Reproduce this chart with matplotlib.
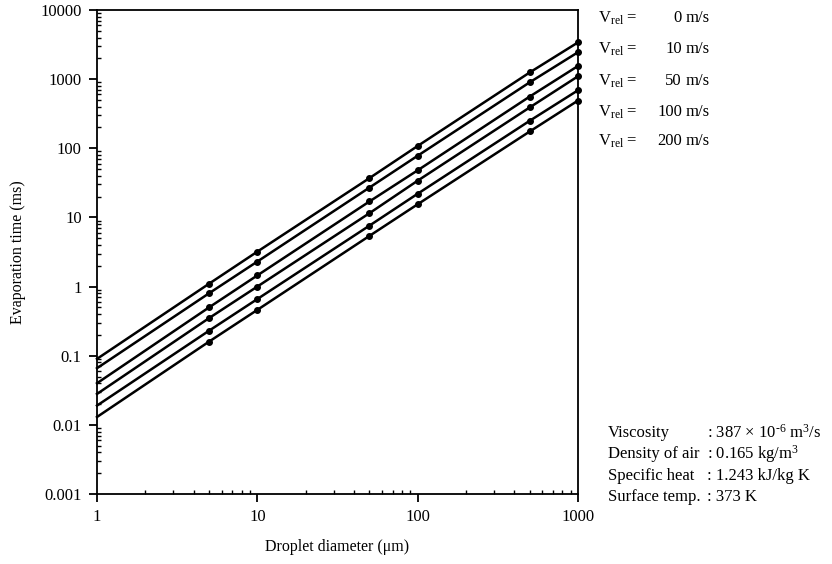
import matplotlib
matplotlib.use("Agg")
import matplotlib.pyplot as plt
from matplotlib.ticker import LogLocator, NullFormatter, FixedLocator, FixedFormatter

plt.rcParams['font.family'] = ['Liberation Serif', 'DejaVu Serif']
plt.rcParams['mathtext.fontset'] = 'custom'
plt.rcParams['mathtext.rm'] = 'Liberation Serif'
plt.rcParams['mathtext.it'] = 'Liberation Serif:italic'

# Data
diameters = [1, 5, 10, 50, 100, 500, 1000]
line1 = [0.090, 1.10, 3.2, 37.0, 108.0, 1250.0, 3400.0]
line2 = [0.066, 0.80, 2.3, 27.0, 78.0, 900.0, 2450.0]
line3 = [0.040, 0.50, 1.45, 17.0, 48.0, 560.0, 1550.0]
line4 = [0.028, 0.35, 1.0, 11.5, 34.0, 390.0, 1100.0]
line5 = [0.019, 0.23, 0.66, 7.6, 22.0, 250.0, 690.0]
line6 = [0.013, 0.16, 0.46, 5.4, 15.5, 175.0, 490.0]
series = [line1, line2, line3, line4, line5, line6]

legend_speeds = ['0', '10', '50', '100', '200']
param_names = ['Viscosity', 'Density of air', 'Specific heat', 'Surface temp.']
param_values = [r': 387 $\times$ 10$^{\text{-}6}$ m$^{3}$/s', r': 0.165 kg/m$^{3}$',
                ': 1.243 kJ/kg K', ': 373 K']
x_ticks = [1, 10, 100, 1000]
x_ticklabels = ['1', '10', '100', '1000']
y_ticks = [0.001, 0.01, 0.1, 1, 10, 100, 1000, 10000]
y_ticklabels = ['0.001', '0.01', '0.1', '1', '10', '100', '1000', '10000']

W, H = 832, 564
fig = plt.figure(figsize=(W / 100, H / 100), dpi=100)
ax = fig.add_axes([97 / W, 1 - 494 / H, (578 - 97) / W, (494 - 10) / H])

for s in series:
    ax.plot(diameters, s, color='black', lw=1.8, clip_on=False)
    ax.plot(diameters[1:], s[1:], 'o', color='black', ms=4, clip_on=False)

ax.set_xscale('log')
ax.set_yscale('log')
ax.set_xlim(1, 1000)
ax.set_ylim(0.001, 10000)

ax.xaxis.set_major_locator(FixedLocator(x_ticks))
ax.xaxis.set_major_formatter(FixedFormatter(x_ticklabels))
ax.yaxis.set_major_locator(FixedLocator(y_ticks))
ax.yaxis.set_major_formatter(FixedFormatter(y_ticklabels))
ax.xaxis.set_minor_locator(LogLocator(base=10, subs=range(2, 10), numticks=20))
ax.yaxis.set_minor_locator(LogLocator(base=10, subs=range(2, 10), numticks=20))
ax.xaxis.set_minor_formatter(NullFormatter())
ax.yaxis.set_minor_formatter(NullFormatter())

ax.tick_params(which='major', direction='out', length=6, width=1.3, labelsize=12,
               colors='black', pad=5)
ax.tick_params(which='minor', direction='in', length=3, width=1.0)
for sp in ax.spines.values():
    sp.set_linewidth(1.3)

ax.set_xlabel('Droplet diameter (μm)', fontsize=11.5, labelpad=10)
ax.set_ylabel('Evaporation time (ms)', fontsize=11.5, labelpad=10)

# legend text
ys = [18, 49, 81, 112, 141]
for y, v in zip(ys, legend_speeds):
    fig.text(598 / W, 1 - y / H, r'V$_{\rm rel}$ =', fontsize=12, va='center', ha='left')
    fig.text(682 / W, 1 - y / H, v, fontsize=12, va='center', ha='right')
    fig.text(686 / W, 1 - y / H, 'm/s', fontsize=12, va='center', ha='left')

pys = [433, 454, 476, 497]
for y, n, v in zip(pys, param_names, param_values):
    fig.text(608 / W, 1 - y / H, n, fontsize=12, va='center', ha='left')
    fig.text(707 / W, 1 - y / H, v, fontsize=12, va='center', ha='left')

fig.savefig('out.png', dpi=100)
